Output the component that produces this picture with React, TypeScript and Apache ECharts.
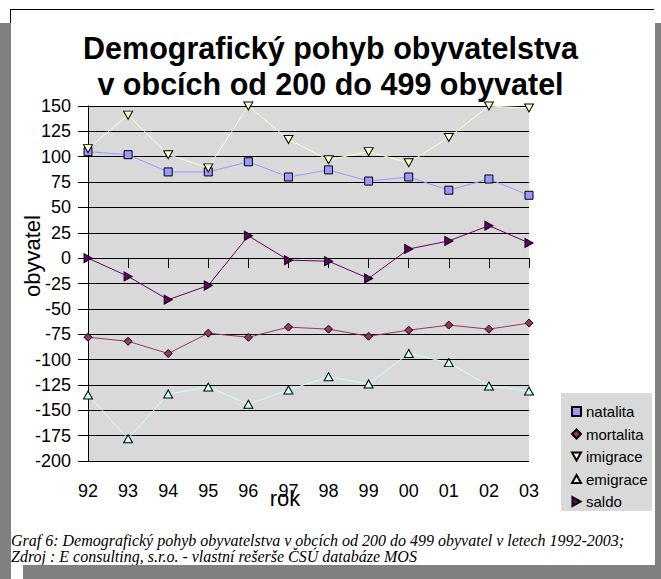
import React, { useEffect, useRef } from "react";
import * as echarts from "echarts";

const years = ["92", "93", "94", "95", "96", "97", "98", "99", "00", "01", "02", "03"];
const natalita = [105, 102, 85, 85, 95, 80, 87, 76, 80, 67, 78, 62];
const mortalita = [-78, -82, -94, -74, -78, -68, -70, -77, -71, -66, -70, -64];
const imigrace = [108, 141, 102, 89, 150, 117, 97, 105, 94, 119, 150, 148];
const emigrace = [-135, -178, -134, -127, -144, -130, -117, -124, -94, -103, -126, -131];
const saldo = [0, -18, -41, -27, 22, -2, -3, -20, 9, 17, 32, 15];

const titleText = "Demografický pohyb obyvatelstva\nv obcích od 200 do 499 obyvatel";
const yName = "obyvatel";
const xName = "rok";
const caption1 = "Graf 6: Demografický pohyb obyvatelstva v obcích od 200 do 499 obyvatel v letech 1992-2003;";
const caption2 = "Zdroj : E consulting, s.r.o. - vlastní rešerše ČSÚ databáze MOS";

const SANS = "'Liberation Sans', Arial, Helvetica, sans-serif";
const SERIF = "'Liberation Serif', 'Times New Roman', serif";

const TRI_DOWN = "path://M0,0 L10,0 L5,9 Z";
const TRI_UP = "path://M5,0 L10,9 L0,9 Z";
const TRI_RIGHT = "path://M0,0 L9,5 L0,10 Z";

const FRAME_GRAY = "#808080";

export default function App() {
  const ref = useRef<HTMLDivElement>(null);

  useEffect(() => {
    if (!ref.current) return;
    const chart = echarts.init(ref.current, undefined, { renderer: "svg" });

    const mk = (name: string, data: number[], color: string, symbol: string, size: any) => ({
      name,
      type: "line",
      data,
      symbol,
      symbolSize: size,
      showSymbol: true,
      lineStyle: { color, width: 1 },
      itemStyle: { color, borderColor: "#000", borderWidth: 1 },
      emphasis: { disabled: true },
    });

    const option: any = {
      animation: false,
      backgroundColor: "transparent",
      title: {
        text: titleText,
        left: "center",
        top: 25,
        textStyle: {
          fontFamily: SANS,
          fontSize: 30.5,
          fontWeight: "bold",
          lineHeight: 36,
          color: "#000",
        },
      },
      grid: {
        left: 88,
        right: 132,
        top: 106,
        bottom: 118,
        show: true,
        backgroundColor: "#d9d9d9",
        borderWidth: 0,
      },
      legend: {
        orient: "vertical",
        left: 566,
        top: 399,
        itemWidth: 9,
        itemHeight: 9,
        itemGap: 7.5,
        textStyle: { fontFamily: SANS, fontSize: 15, color: "#000" },
        data: [
          { name: "natalita", icon: "rect" },
          { name: "mortalita", icon: "diamond" },
          { name: "imigrace", icon: TRI_DOWN },
          { name: "emigrace", icon: TRI_UP },
          { name: "saldo", icon: TRI_RIGHT },
        ],
        selectedMode: false,
      },
      xAxis: {
        type: "category",
        data: years,
        boundaryGap: false,
        axisLine: { lineStyle: { color: "#000", width: 1 } },
        axisTick: { show: true, length: 10, lineStyle: { color: "#000" } },
        axisLabel: { fontFamily: SANS, fontSize: 18, color: "#000", margin: 21 },
        splitLine: { show: false },
      },
      yAxis: {
        type: "value",
        min: -200,
        max: 150,
        interval: 25,
        axisLine: { show: true, lineStyle: { color: "#000", width: 1 } },
        axisTick: { show: true, length: 10, lineStyle: { color: "#000" } },
        axisLabel: { fontFamily: SANS, fontSize: 18, color: "#000", margin: 17 },
        splitLine: { show: true, lineStyle: { color: "#000", width: 1 } },
      },
      series: [
        mk("natalita", natalita, "#9999ff", "rect", 8),
        mk("mortalita", mortalita, "#993366", "diamond", 8),
        mk("imigrace", imigrace, "#ffffcc", TRI_DOWN, [9, 8]),
        mk("emigrace", emigrace, "#ccffff", TRI_UP, [9, 8]),
        mk("saldo", saldo, "#660066", TRI_RIGHT, [8, 9]),
      ],
      graphic: {
        elements: [
          { type: "rect", z: 5, silent: true, shape: { x: 0, y: 23, width: 11, height: 556 }, style: { fill: FRAME_GRAY, stroke: FRAME_GRAY, lineWidth: 0 } },
          { type: "polygon", z: 5, silent: true, shape: { points: [[655, 23], [661, 23], [661, 579], [655, 579]] }, style: { fill: FRAME_GRAY } },
          { type: "rect", z: 5, silent: true, left: 23, top: 565, shape: { width: 638, height: 14 }, style: { fill: FRAME_GRAY } },
          { type: "rect", z: 1, silent: true, shape: { x: 10, y: 9, width: 644, height: 1 }, style: { fill: "#000" } },
          { type: "rect", z: 1, silent: true, shape: { x: 10, y: 9, width: 1, height: 14 }, style: { fill: "#000" } },
          { type: "rect", z: -10, silent: true, shape: { x: 561, y: 393, width: 91, height: 118 }, style: { fill: "#d9d9d9" } },
          {
            type: "text",
            x: 32,
            y: 256,
            rotation: Math.PI / 2,
            style: {
              text: yName,
              fontFamily: SANS,
              fontSize: 22,
              fill: "#000",
              align: "center",
              verticalAlign: "middle",
            },
          },
          {
            type: "text",
            x: 285,
            y: 498,
            style: {
              text: xName,
              fontFamily: SANS,
              fontSize: 22,
              fill: "#000",
              align: "center",
              verticalAlign: "middle",
            },
          },
          {
            type: "text",
            x: 11,
            y: 540,
            style: {
              text: caption1,
              fontFamily: SERIF,
              fontStyle: "italic",
              fontSize: 16,
              fill: "#000",
              align: "left",
              verticalAlign: "middle",
            },
          },
          {
            type: "text",
            x: 11,
            y: 556,
            style: {
              text: caption2,
              fontFamily: SERIF,
              fontStyle: "italic",
              fontSize: 16,
              fill: "#000",
              align: "left",
              verticalAlign: "middle",
            },
          },
        ],
      },
    };

    chart.setOption(option);
    return () => chart.dispose();
  }, []);

  const white = (left: number, top: number, width: number, height: number) => (
    <div style={{ position: "absolute", left, top, width, height, background: "#ffffff" }} />
  );

  return (
    <div style={{ position: "fixed", left: 0, top: 0, width: 661, height: 579, background: FRAME_GRAY, overflow: "hidden" }}>
      {white(0, 0, 661, 23)}
      {white(11, 23, 644, 542)}
      {white(11, 565, 12, 14)}
      <div ref={ref} style={{ position: "absolute", left: 0, top: 0, width: 661, height: 579 }} />
    </div>
  );
}
